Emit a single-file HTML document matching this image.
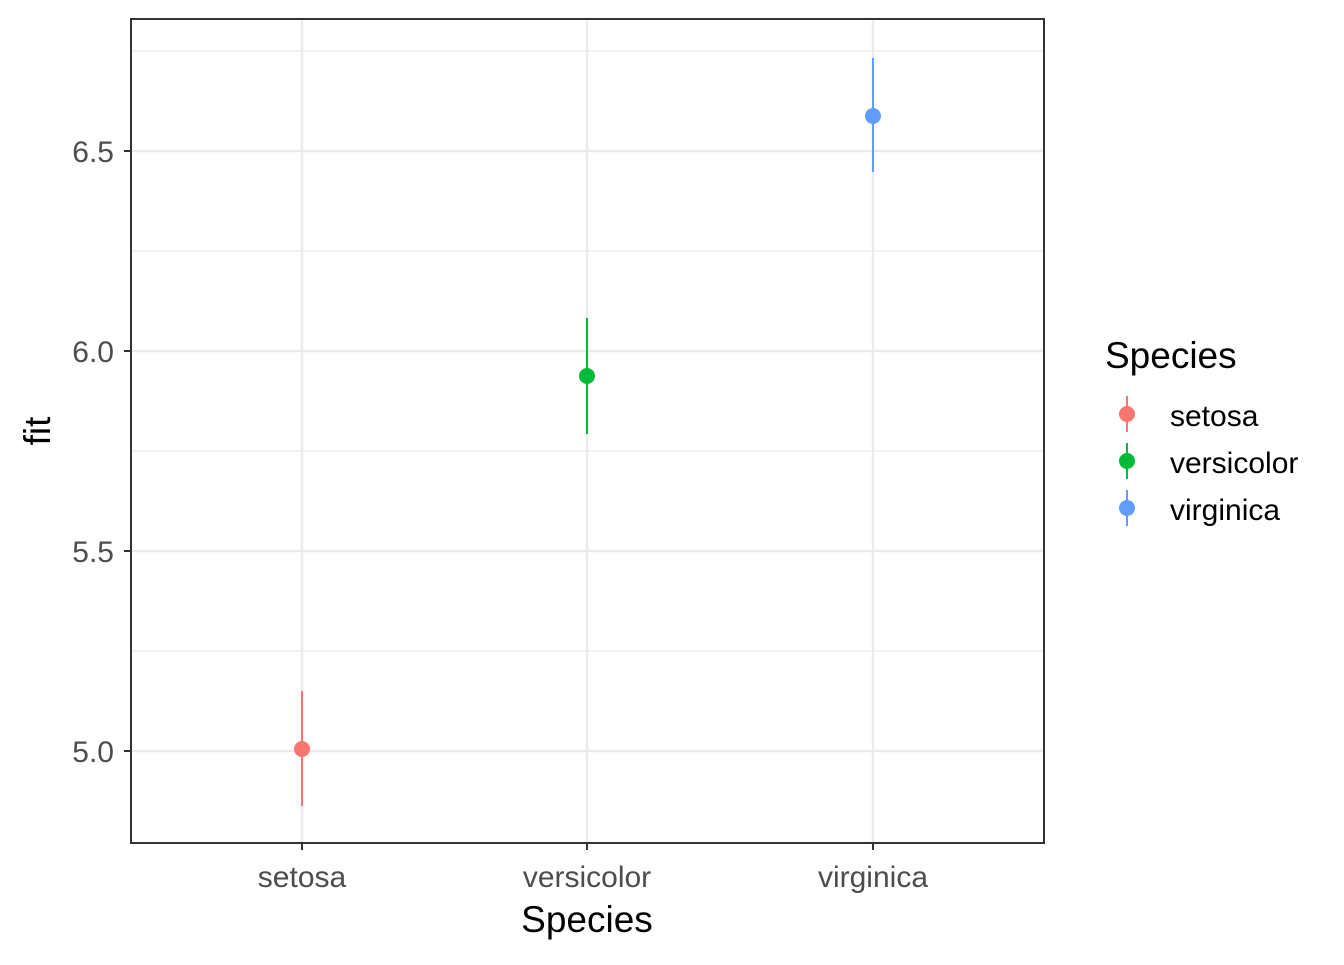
<!DOCTYPE html>
<html><head><style>body{margin:0;background:#fff}</style></head><body>
<svg width="1344" height="960" xmlns="http://www.w3.org/2000/svg" font-family="Liberation Sans, Arial, sans-serif">
<rect width="1344" height="960" fill="#fff"/>
<g stroke="#ebebeb" stroke-width="1.2">
<line x1="131" x2="1044" y1="51" y2="51"/><line x1="131" x2="1044" y1="251" y2="251"/>
<line x1="131" x2="1044" y1="451" y2="451"/><line x1="131" x2="1044" y1="651" y2="651"/>
</g>
<g stroke="#ebebeb" stroke-width="2.4">
<line x1="131" x2="1044" y1="151" y2="151"/><line x1="131" x2="1044" y1="351" y2="351"/>
<line x1="131" x2="1044" y1="551" y2="551"/><line x1="131" x2="1044" y1="751" y2="751"/>
<line x1="302" x2="302" y1="19" y2="843"/><line x1="587" x2="587" y1="19" y2="843"/><line x1="873" x2="873" y1="19" y2="843"/>
</g>
<line x1="302" x2="302" y1="691" y2="806" stroke="#F8766D" stroke-width="2"/>
<circle cx="302" cy="749" r="8" fill="#F8766D"/>
<line x1="587" x2="587" y1="318" y2="434" stroke="#00BA38" stroke-width="2"/>
<circle cx="587" cy="376" r="8" fill="#00BA38"/>
<line x1="873" x2="873" y1="58" y2="172" stroke="#619CFF" stroke-width="2"/>
<circle cx="873" cy="116" r="8" fill="#619CFF"/>
<rect x="131" y="19" width="913" height="824" fill="none" stroke="#333" stroke-width="2"/>
<g stroke="#333" stroke-width="2">
<line x1="124" x2="131" y1="151" y2="151"/><line x1="124" x2="131" y1="351" y2="351"/>
<line x1="124" x2="131" y1="551" y2="551"/><line x1="124" x2="131" y1="751" y2="751"/>
<line x1="302" x2="302" y1="843" y2="850"/><line x1="587" x2="587" y1="843" y2="850"/><line x1="873" x2="873" y1="843" y2="850"/>
</g>
<g fill="#4d4d4d" font-size="30" text-anchor="end">
<text x="114" y="162">6.5</text><text x="114" y="362">6.0</text><text x="114" y="562">5.5</text><text x="114" y="762">5.0</text>
</g>
<g fill="#4d4d4d" font-size="30" text-anchor="middle">
<text x="302" y="887">setosa</text><text x="587" y="887">versicolor</text><text x="873" y="887">virginica</text>
</g>
<text x="587" y="932" font-size="37" text-anchor="middle">Species</text>
<text transform="translate(50,431) rotate(-90)" font-size="37" text-anchor="middle">fit</text>
<text x="1105" y="368" font-size="37">Species</text>
<line x1="1127" x2="1127" y1="396" y2="432" stroke="#F8766D" stroke-width="2"/><circle cx="1127" cy="414" r="8" fill="#F8766D"/>
<line x1="1127" x2="1127" y1="443" y2="479" stroke="#00BA38" stroke-width="2"/><circle cx="1127" cy="461" r="8" fill="#00BA38"/>
<line x1="1127" x2="1127" y1="490" y2="526" stroke="#619CFF" stroke-width="2"/><circle cx="1127" cy="508" r="8" fill="#619CFF"/>
<g font-size="30">
<text x="1170" y="426">setosa</text><text x="1170" y="473">versicolor</text><text x="1170" y="520">virginica</text>
</g>
</svg>
</body></html>
